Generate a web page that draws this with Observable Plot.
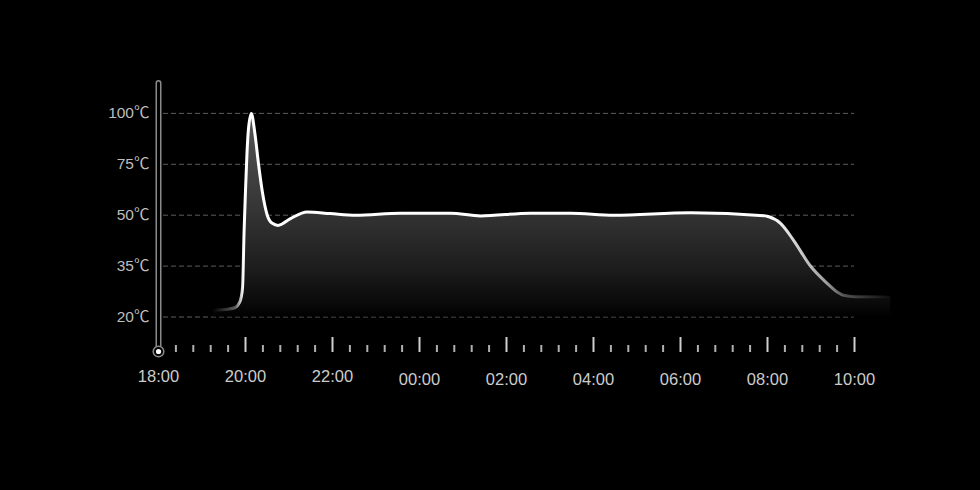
<!DOCTYPE html>
<html>
<head>
<meta charset="utf-8">
<script src="https://cdn.jsdelivr.net/npm/d3@7"></script>
<script src="https://cdn.jsdelivr.net/npm/@observablehq/plot@0.6"></script>
<style>
  html, body { margin: 0; padding: 0; background: #000; }
  #chart { width: 980px; height: 490px; }
</style>
</head>
<body>
<div id="chart"></div>
<script>
// Overnight temperature log (clock time, °C)
const times = ["19:15","19:35","19:46","19:51","19:54","19:56","19:58","20:00","20:02","20:04","20:08","20:13","20:18","20:23","20:30","20:37","20:45","21:02","21:25","21:57","22:32","23:34","00:43","01:24","02:33","03:28","04:28","06:14","07:57","08:01","08:18","08:36","08:59","09:22","09:36","09:45","10:01","10:50"];
const temps = [22.0, 22.3, 22.8, 24.0, 25.8, 29, 45, 62, 80, 92, 100, 90, 75, 62, 50, 47.6, 47, 49, 51.6, 50.8, 50, 51, 51, 49.8, 51, 51, 50, 51.2, 49.8, 49.6, 47.6, 42.6, 35.1, 30, 27.4, 26.4, 26, 26];

// Temperature ticks (evenly spaced on screen) and clock labels
const yTicks = [20, 35, 50, 75, 100];
const xLabels = ["18:00", "20:00", "22:00", "00:00", "02:00", "04:00", "06:00", "08:00", "10:00"];

// Clock times from 18:00 onward belong to the first evening, earlier ones to the next morning
function toDate(hhmm) {
  const [h, m] = hhmm.split(":").map(Number);
  return new Date(Date.UTC(2024, 0, h >= 18 ? 1 : 2, h, m));
}

const data = times.map((t, i) => ({time: toDate(t), temp: temps[i]}));
const start = toDate(xLabels[0]);
const end = toDate(xLabels[xLabels.length - 1]);

// Ruler ticks: a tall tick every two hours, short ones every 24 minutes between
const majorTicks = xLabels.slice(1).map(toDate);
const minorTicks = d3.range(0, 16 * 60 + 1, 24)
  .filter((_, i) => i % 5 !== 0)
  .map(min => new Date(+start + min * 60000));

const eveningLabels = xLabels.filter(l => +l.slice(0, 2) >= 18).map(toDate);
const morningLabels = xLabels.filter(l => +l.slice(0, 2) < 18).map(toDate);

const font = "'Liberation Sans', 'Noto Sans CJK SC', sans-serif";
const frameH = 490 - 83 - 138;
const curve = "monotone-x";

const chart = Plot.plot({
  width: 980,
  height: 490,
  marginTop: 83,
  marginBottom: 138,
  marginLeft: 158,
  marginRight: 126,
  style: {background: "#000", color: "#c8c8c8", fontFamily: font},
  x: {type: "utc", domain: [start, end], range: [158, 854]},
  // piecewise linear: each tick interval gets the same height
  y: {type: "linear", domain: yTicks, range: yTicks.map((_, i) => 316.5 - i * 50.9)},
  marks: [
    Plot.ruleY(yTicks, {y: d => d, x1: start, x2: end, insetLeft: 5, stroke: "#5c5c5c", strokeWidth: 1, strokeDasharray: "5,3"}),
    Plot.areaY(data, {x: "time", y1: 20, y2: "temp", curve, fill: "url(#tempFill)"}),
    Plot.line(data, {x: "time", y: "temp", curve, stroke: "url(#tempStroke)", strokeWidth: 3}),
    // thermometer-style stem
    Plot.ruleX([start], {x: d => d, stroke: "#8a8a8a", strokeWidth: 6, strokeLinecap: "round"}),
    Plot.ruleX([start], {x: d => d, stroke: "#000", strokeWidth: 3, strokeLinecap: "round"}),
    // ruler ticks
    Plot.ruleX(minorTicks, {x: d => d, insetTop: frameH - 7, stroke: "#b0b0b0", strokeWidth: 2}),
    Plot.ruleX(majorTicks, {x: d => d, insetTop: frameH - 15, stroke: "#cfcfcf", strokeWidth: 2}),
    Plot.dot([start], {x: d => d, frameAnchor: "bottom", dy: -1, r: 5.3, fill: "#000", stroke: "#8a8a8a", strokeWidth: 1.5}),
    Plot.dot([start], {x: d => d, frameAnchor: "bottom", dy: -1, r: 2.6, fill: "#fff"}),
    Plot.axisY(yTicks, {anchor: "left", tickSize: 0, tickPadding: 9, tickFormat: d => d + "℃", fontSize: 15.5, fill: "#bdbdbd", label: null}),
    Plot.axisX(eveningLabels, {anchor: "bottom", tickSize: 0, tickPadding: 18, tickFormat: d3.utcFormat("%H:%M"), fontSize: 16.5, fill: "#cccccc", label: null}),
    Plot.axisX(morningLabels, {anchor: "bottom", tickSize: 0, tickPadding: 21, tickFormat: d3.utcFormat("%H:%M"), fontSize: 16.5, fill: "#cccccc", label: null})
  ]
});

// Gradients: stroke fades in/out horizontally, fill darkens toward the bottom
const xs = chart.scale("x"), ys = chart.scale("y");
const ns = "http://www.w3.org/2000/svg";
const defs = document.createElementNS(ns, "defs");

function gradient(id, coords, stops) {
  const g = document.createElementNS(ns, "linearGradient");
  g.setAttribute("id", id);
  g.setAttribute("gradientUnits", "userSpaceOnUse");
  for (const [k, v] of Object.entries(coords)) g.setAttribute(k, v);
  for (const [offset, color, opacity] of stops) {
    const s = document.createElementNS(ns, "stop");
    s.setAttribute("offset", offset);
    s.setAttribute("stop-color", color);
    s.setAttribute("stop-opacity", opacity);
    g.appendChild(s);
  }
  defs.appendChild(g);
}

const x0 = xs.apply(data[0].time), x1 = xs.apply(data[data.length - 1].time);
const fx = t => (xs.apply(toDate(t)) - x0) / (x1 - x0);
gradient("tempStroke", {x1: x0, x2: x1, y1: 0, y2: 0}, [
  [0, "#fff", 0],
  [fx("19:46"), "#fff", 0.35],
  [fx("19:57"), "#fff", 1],
  [fx("08:01"), "#fff", 1],
  [fx("09:22"), "#fff", 0.6],
  [fx("09:45"), "#fff", 0.3],
  [1, "#fff", 0]
]);

const yTop = ys.apply(100), yBot = ys.apply(20);
const fy = v => (ys.apply(v) - yTop) / (yBot - yTop);
gradient("tempFill", {x1: 0, x2: 0, y1: yTop, y2: yBot}, [
  [0, "#575757", 1],
  [fy(50), "#333333", 1],
  [fy(35), "#1e1e1e", 1],
  [fy(24), "#0a0a0a", 1],
  [1, "#000000", 1]
]);

chart.insertBefore(defs, chart.firstChild);
document.getElementById("chart").appendChild(chart);
</script>
</body>
</html>
